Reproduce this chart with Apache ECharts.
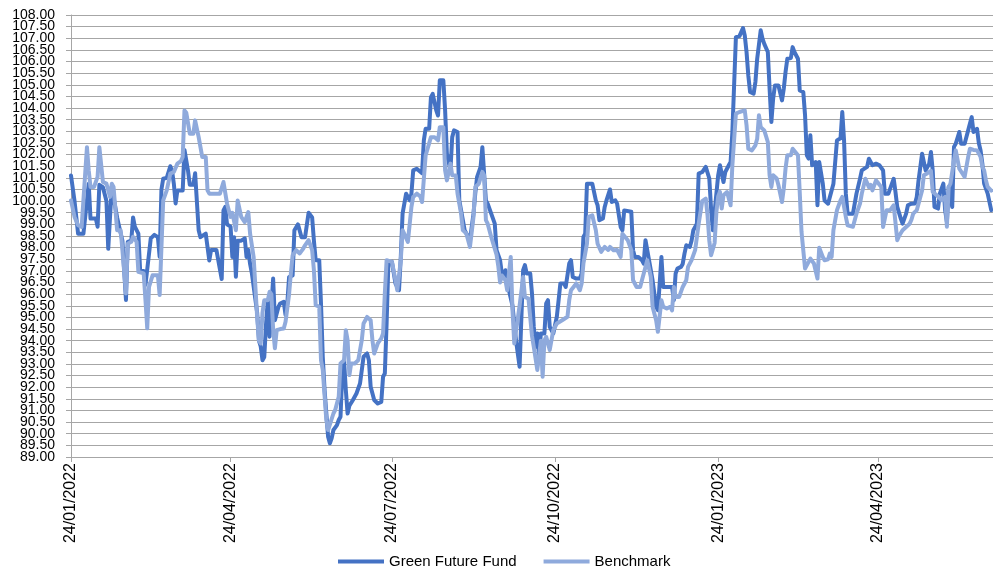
<!DOCTYPE html>
<html>
<head>
<meta charset="utf-8">
<script src="https://cdn.jsdelivr.net/npm/echarts@6/dist/echarts.min.js"></script>
<style>
  html, body { margin: 0; padding: 0; background: #fff; }
  #chart { width: 993px; height: 566px; }
</style>
</head>
<body>
<div id="chart"></div>
<script>
// axis settings
const yMin = 89, yMax = 108, yStep = 0.5;
const xStart = '2022-01-24', xEnd = '2023-06-28';
const tickDates = ['2022-01-24', '2022-04-24', '2022-07-24', '2022-10-24', '2023-01-24', '2023-04-24'];
const seriesNames = ['Green Future Fund', 'Benchmark'];

// Green Future Fund, [date, value]
const fundData = [
  ['2022-01-24', 101.1], ['2022-01-26', 100.0], ['2022-01-28', 98.6], ['2022-01-31', 98.6],
  ['2022-02-03', 100.75], ['2022-02-04', 99.25], ['2022-02-07', 99.25], ['2022-02-08', 98.9],
  ['2022-02-09', 100.7], ['2022-02-11', 100.6], ['2022-02-13', 100.0], ['2022-02-14', 97.95],
  ['2022-02-15', 99.3], ['2022-02-16', 100.6], ['2022-02-19', 99.3], ['2022-02-20', 98.95],
  ['2022-02-22', 98.3], ['2022-02-23', 97.0], ['2022-02-24', 95.75], ['2022-02-25', 98.25],
  ['2022-02-27', 98.3], ['2022-02-28', 99.3], ['2022-03-01', 98.9], ['2022-03-03', 98.6],
  ['2022-03-04', 97.0], ['2022-03-06', 97.0], ['2022-03-07', 96.4], ['2022-03-10', 98.4],
  ['2022-03-12', 98.55], ['2022-03-14', 98.45], ['2022-03-15', 97.6], ['2022-03-16', 100.5],
  ['2022-03-17', 100.96], ['2022-03-19', 101.0], ['2022-03-21', 101.5], ['2022-03-22', 101.3],
  ['2022-03-23', 100.75], ['2022-03-24', 99.9], ['2022-03-25', 100.46], ['2022-03-28', 100.46],
  ['2022-03-29', 102.2], ['2022-03-31', 101.3], ['2022-04-01', 100.7], ['2022-04-03', 100.7],
  ['2022-04-04', 101.2], ['2022-04-06', 98.75], ['2022-04-07', 98.45], ['2022-04-10', 98.6],
  ['2022-04-12', 97.45], ['2022-04-13', 97.9], ['2022-04-16', 97.9], ['2022-04-19', 96.65],
  ['2022-04-20', 99.6], ['2022-04-21', 99.75], ['2022-04-22', 99.0], ['2022-04-24', 98.9],
  ['2022-04-25', 97.6], ['2022-04-26', 98.45], ['2022-04-27', 96.75], ['2022-04-28', 98.3],
  ['2022-04-30', 98.3], ['2022-05-02', 98.4], ['2022-05-03', 97.6], ['2022-05-04', 97.9],
  ['2022-05-05', 97.3], ['2022-05-06', 96.9], ['2022-05-09', 95.2], ['2022-05-10', 94.0],
  ['2022-05-11', 93.75], ['2022-05-12', 93.16], ['2022-05-13', 93.3], ['2022-05-14', 94.7],
  ['2022-05-15', 95.74], ['2022-05-16', 94.17], ['2022-05-18', 96.67], ['2022-05-19', 94.88],
  ['2022-05-21', 95.45], ['2022-05-22', 95.6], ['2022-05-24', 95.67], ['2022-05-25', 95.1],
  ['2022-05-26', 95.6], ['2022-05-27', 96.74], ['2022-05-29', 96.81], ['2022-05-30', 98.75],
  ['2022-06-01', 99.0], ['2022-06-03', 98.45], ['2022-06-05', 98.45], ['2022-06-07', 99.5],
  ['2022-06-09', 99.3], ['2022-06-10', 98.3], ['2022-06-11', 97.46], ['2022-06-13', 97.46],
  ['2022-06-14', 95.6], ['2022-06-15', 93.3], ['2022-06-16', 91.9], ['2022-06-18', 89.87],
  ['2022-06-19', 89.59], ['2022-06-20', 89.8], ['2022-06-21', 90.16], ['2022-06-23', 90.37],
  ['2022-06-24', 90.59], ['2022-06-25', 90.73], ['2022-06-26', 92.59], ['2022-06-27', 93.16],
  ['2022-06-28', 91.88], ['2022-06-29', 90.87], ['2022-06-30', 91.2], ['2022-07-02', 91.45],
  ['2022-07-04', 91.73], ['2022-07-06', 92.16], ['2022-07-08', 93.31], ['2022-07-10', 93.45],
  ['2022-07-11', 93.16], ['2022-07-12', 92.02], ['2022-07-14', 91.45], ['2022-07-16', 91.3],
  ['2022-07-18', 91.37], ['2022-07-19', 92.45], ['2022-07-20', 92.59], ['2022-07-21', 94.74],
  ['2022-07-22', 97.32], ['2022-07-24', 97.39], ['2022-07-26', 96.46], ['2022-07-28', 96.17],
  ['2022-07-29', 97.6], ['2022-07-30', 99.46], ['2022-07-31', 99.53], ['2022-08-01', 100.32],
  ['2022-08-02', 100.39], ['2022-08-03', 100.03], ['2022-08-04', 100.32], ['2022-08-05', 101.32],
  ['2022-08-07', 101.39], ['2022-08-08', 101.32], ['2022-08-10', 101.2], ['2022-08-11', 102.61],
  ['2022-08-12', 103.11], ['2022-08-14', 103.11], ['2022-08-15', 104.47], ['2022-08-16', 104.61],
  ['2022-08-18', 103.9], ['2022-08-19', 103.68], ['2022-08-20', 105.19], ['2022-08-22', 105.19],
  ['2022-08-23', 103.9], ['2022-08-24', 102.04], ['2022-08-26', 101.32], ['2022-08-27', 102.75],
  ['2022-08-28', 103.04], ['2022-08-30', 102.97], ['2022-08-31', 100.03], ['2022-09-02', 99.18],
  ['2022-09-03', 98.75], ['2022-09-04', 98.68], ['2022-09-06', 98.32], ['2022-09-08', 99.46],
  ['2022-09-09', 100.32], ['2022-09-10', 101.03], ['2022-09-12', 101.47], ['2022-09-13', 102.32],
  ['2022-09-14', 102.32], ['2022-09-15', 100.03], ['2022-09-16', 99.89], ['2022-09-18', 99.46],
  ['2022-09-19', 99.46], ['2022-09-20', 99.03], ['2022-09-21', 97.89], ['2022-09-23', 97.46],
  ['2022-09-24', 96.89], ['2022-09-25', 96.74], ['2022-09-26', 97.03], ['2022-09-28', 96.17],
  ['2022-09-30', 95.5], ['2022-10-02', 94.0], ['2022-10-04', 92.88], ['2022-10-06', 97.03],
  ['2022-10-07', 97.25], ['2022-10-08', 96.89], ['2022-10-10', 96.89], ['2022-10-11', 96.03],
  ['2022-10-12', 94.6], ['2022-10-13', 93.74], ['2022-10-14', 94.31], ['2022-10-15', 93.31],
  ['2022-10-16', 94.31], ['2022-10-18', 94.31], ['2022-10-19', 95.6], ['2022-10-20', 95.74],
  ['2022-10-21', 94.6], ['2022-10-23', 94.31], ['2022-10-25', 95.03], ['2022-10-26', 95.74],
  ['2022-10-27', 96.46], ['2022-10-29', 96.46], ['2022-10-30', 96.31], ['2022-11-01', 97.32],
  ['2022-11-02', 97.46], ['2022-11-03', 96.74], ['2022-11-05', 96.67], ['2022-11-07', 96.67],
  ['2022-11-08', 96.89], ['2022-11-09', 98.46], ['2022-11-10', 98.6], ['2022-11-11', 100.75],
  ['2022-11-14', 100.75], ['2022-11-15', 100.82], ['2022-11-16', 100.03], ['2022-11-17', 99.82],
  ['2022-11-18', 99.18], ['2022-11-20', 99.25], ['2022-11-21', 99.75], ['2022-11-22', 100.03],
  ['2022-11-24', 100.5], ['2022-11-25', 99.96], ['2022-11-27', 100.03], ['2022-11-28', 99.89],
  ['2022-11-30', 98.89], ['2022-12-01', 98.75], ['2022-12-02', 99.6], ['2022-12-03', 99.54],
  ['2022-12-06', 99.54], ['2022-12-07', 97.89], ['2022-12-08', 97.6], ['2022-12-10', 97.6],
  ['2022-12-12', 97.46], ['2022-12-13', 97.31], ['2022-12-14', 98.32], ['2022-12-15', 98.3],
  ['2022-12-17', 97.03], ['2022-12-18', 96.6], ['2022-12-20', 95.46], ['2022-12-21', 95.31],
  ['2022-12-23', 97.6], ['2022-12-24', 96.31], ['2022-12-29', 96.31], ['2022-12-30', 95.74],
  ['2022-12-31', 96.89], ['2023-01-01', 97.1], ['2023-01-03', 97.17], ['2023-01-04', 97.3],
  ['2023-01-05', 97.74], ['2023-01-06', 98.1], ['2023-01-08', 98.03], ['2023-01-09', 98.3],
  ['2023-01-10', 98.75], ['2023-01-12', 99.03], ['2023-01-13', 101.18], ['2023-01-15', 101.25],
  ['2023-01-17', 101.47], ['2023-01-19', 100.97], ['2023-01-20', 99.68], ['2023-01-21', 98.75],
  ['2023-01-22', 98.75], ['2023-01-24', 101.11], ['2023-01-25', 101.54], ['2023-01-27', 100.82],
  ['2023-01-28', 101.25], ['2023-01-30', 101.54], ['2023-01-31', 101.68], ['2023-02-01', 102.97],
  ['2023-02-03', 107.05], ['2023-02-05', 107.09], ['2023-02-07', 107.44], ['2023-02-08', 107.12],
  ['2023-02-09', 106.41], ['2023-02-10', 105.4], ['2023-02-11', 104.69], ['2023-02-13', 104.62],
  ['2023-02-14', 105.12], ['2023-02-15', 106.12], ['2023-02-17', 107.34], ['2023-02-18', 106.98],
  ['2023-02-19', 106.76], ['2023-02-20', 106.69], ['2023-02-21', 106.41], ['2023-02-22', 104.83],
  ['2023-02-23', 103.4], ['2023-02-24', 104.4], ['2023-02-25', 104.97], ['2023-02-27', 104.97],
  ['2023-03-01', 104.33], ['2023-03-02', 104.83], ['2023-03-03', 105.55], ['2023-03-04', 106.12],
  ['2023-03-06', 106.15], ['2023-03-07', 106.62], ['2023-03-08', 106.41], ['2023-03-09', 106.48],
  ['2023-03-10', 106.12], ['2023-03-11', 104.76], ['2023-03-13', 104.69], ['2023-03-14', 103.69],
  ['2023-03-15', 101.97], ['2023-03-16', 101.83], ['2023-03-17', 102.83], ['2023-03-18', 101.54],
  ['2023-03-20', 101.68], ['2023-03-21', 99.82], ['2023-03-22', 101.68], ['2023-03-23', 101.61],
  ['2023-03-24', 100.75], ['2023-03-25', 100.03], ['2023-03-27', 99.89], ['2023-03-28', 100.18],
  ['2023-03-30', 100.75], ['2023-04-01', 102.61], ['2023-04-02', 102.68], ['2023-04-03', 102.7],
  ['2023-04-04', 103.83], ['2023-04-05', 102.61], ['2023-04-06', 100.32], ['2023-04-07', 99.46],
  ['2023-04-10', 99.46], ['2023-04-12', 100.32], ['2023-04-14', 100.96], ['2023-04-15', 101.32],
  ['2023-04-16', 101.3], ['2023-04-18', 101.47], ['2023-04-19', 101.82], ['2023-04-21', 101.54],
  ['2023-04-23', 101.61], ['2023-04-25', 101.54], ['2023-04-27', 101.32], ['2023-04-28', 100.32],
  ['2023-04-30', 100.32], ['2023-05-02', 100.75], ['2023-05-03', 100.96], ['2023-05-04', 100.39],
  ['2023-05-05', 99.75], ['2023-05-07', 99.25], ['2023-05-08', 99.03], ['2023-05-10', 99.46],
  ['2023-05-11', 99.82], ['2023-05-13', 99.89], ['2023-05-15', 99.9], ['2023-05-16', 100.18],
  ['2023-05-17', 100.89], ['2023-05-19', 102.04], ['2023-05-20', 102.04], ['2023-05-21', 101.32],
  ['2023-05-23', 101.6], ['2023-05-24', 102.11], ['2023-05-25', 101.32], ['2023-05-26', 99.75],
  ['2023-05-28', 99.68], ['2023-05-29', 100.32], ['2023-05-31', 100.75], ['2023-06-01', 99.61],
  ['2023-06-02', 99.1], ['2023-06-03', 100.61], ['2023-06-05', 99.75], ['2023-06-06', 102.33],
  ['2023-06-07', 102.47], ['2023-06-09', 102.97], ['2023-06-10', 102.47], ['2023-06-12', 102.47],
  ['2023-06-13', 102.76], ['2023-06-15', 103.33], ['2023-06-16', 103.61], ['2023-06-17', 102.97],
  ['2023-06-19', 103.11], ['2023-06-20', 102.5], ['2023-06-21', 102.18], ['2023-06-22', 101.61],
  ['2023-06-23', 100.75], ['2023-06-25', 100.32], ['2023-06-26', 100.25], ['2023-06-27', 99.61]
];

// Benchmark, [date, value]
const benchData = [
  ['2022-01-24', 100.03], ['2022-01-26', 99.32], ['2022-01-28', 98.96], ['2022-01-30', 98.89],
  ['2022-02-01', 101.18], ['2022-02-02', 102.32], ['2022-02-03', 101.32], ['2022-02-04', 100.61],
  ['2022-02-06', 100.61], ['2022-02-08', 101.04], ['2022-02-09', 102.32], ['2022-02-10', 102.25],
  ['2022-02-11', 100.82], ['2022-02-13', 100.75], ['2022-02-15', 100.18], ['2022-02-16', 100.75],
  ['2022-02-17', 100.61], ['2022-02-19', 98.75], ['2022-02-21', 98.75], ['2022-02-22', 97.89],
  ['2022-02-23', 96.96], ['2022-02-24', 96.03], ['2022-02-25', 98.17], ['2022-02-27', 98.25],
  ['2022-02-28', 98.46], ['2022-03-02', 98.25], ['2022-03-03', 96.96], ['2022-03-06', 96.89],
  ['2022-03-07', 95.74], ['2022-03-08', 94.53], ['2022-03-09', 96.31], ['2022-03-11', 96.81],
  ['2022-03-14', 96.81], ['2022-03-15', 95.96], ['2022-03-17', 100.03], ['2022-03-19', 100.46],
  ['2022-03-21', 101.18], ['2022-03-23', 101.25], ['2022-03-25', 101.61], ['2022-03-27', 101.72],
  ['2022-03-28', 101.9], ['2022-03-29', 103.9], ['2022-03-30', 103.8], ['2022-04-01', 102.9],
  ['2022-04-03', 102.9], ['2022-04-04', 103.47], ['2022-04-06', 102.75], ['2022-04-08', 101.9],
  ['2022-04-10', 101.9], ['2022-04-11', 100.46], ['2022-04-12', 100.32], ['2022-04-18', 100.32],
  ['2022-04-20', 100.82], ['2022-04-21', 100.75], ['2022-04-22', 99.89], ['2022-04-24', 99.32],
  ['2022-04-25', 99.5], ['2022-04-27', 98.75], ['2022-04-28', 100.03], ['2022-04-30', 99.32],
  ['2022-05-02', 99.1], ['2022-05-04', 99.53], ['2022-05-05', 98.6], ['2022-05-07', 97.6],
  ['2022-05-09', 95.0], ['2022-05-10', 94.0], ['2022-05-11', 93.88], ['2022-05-12', 95.2],
  ['2022-05-13', 95.74], ['2022-05-15', 95.74], ['2022-05-16', 96.1], ['2022-05-17', 96.0],
  ['2022-05-18', 94.5], ['2022-05-19', 93.67], ['2022-05-20', 94.45], ['2022-05-22', 94.5],
  ['2022-05-24', 94.52], ['2022-05-25', 94.81], ['2022-05-27', 96.0], ['2022-05-28', 96.89],
  ['2022-05-29', 97.67], ['2022-05-31', 97.89], ['2022-06-02', 97.75], ['2022-06-04', 97.96],
  ['2022-06-05', 98.1], ['2022-06-07', 98.32], ['2022-06-09', 97.89], ['2022-06-10', 97.03],
  ['2022-06-11', 95.53], ['2022-06-13', 95.46], ['2022-06-14', 93.16], ['2022-06-15', 92.74],
  ['2022-06-17', 90.59], ['2022-06-18', 90.16], ['2022-06-19', 90.16], ['2022-06-21', 90.87],
  ['2022-06-22', 91.02], ['2022-06-24', 91.59], ['2022-06-25', 93.02], ['2022-06-27', 93.16],
  ['2022-06-28', 94.45], ['2022-06-29', 94.02], ['2022-06-30', 92.52], ['2022-07-01', 93.02],
  ['2022-07-03', 93.02], ['2022-07-05', 93.16], ['2022-07-07', 94.02], ['2022-07-08', 94.74],
  ['2022-07-10', 95.02], ['2022-07-12', 94.88], ['2022-07-13', 94.02], ['2022-07-14', 93.45],
  ['2022-07-16', 93.88], ['2022-07-18', 94.1], ['2022-07-19', 94.31], ['2022-07-20', 96.03],
  ['2022-07-21', 97.46], ['2022-07-22', 97.39], ['2022-07-24', 97.39], ['2022-07-26', 96.6],
  ['2022-07-27', 96.17], ['2022-07-29', 97.46], ['2022-07-30', 98.75], ['2022-07-31', 98.75],
  ['2022-08-02', 98.25], ['2022-08-04', 99.75], ['2022-08-05', 100.18], ['2022-08-07', 100.32],
  ['2022-08-09', 100.2], ['2022-08-10', 99.96], ['2022-08-12', 101.96], ['2022-08-13', 102.04],
  ['2022-08-15', 102.75], ['2022-08-17', 102.75], ['2022-08-19', 102.61], ['2022-08-20', 103.18],
  ['2022-08-22', 103.18], ['2022-08-23', 101.32], ['2022-08-24', 100.89], ['2022-08-26', 101.61],
  ['2022-08-27', 101.11], ['2022-08-29', 101.1], ['2022-08-30', 100.32], ['2022-09-01', 99.46],
  ['2022-09-02', 98.75], ['2022-09-04', 98.6], ['2022-09-05', 98.53], ['2022-09-06', 98.03],
  ['2022-09-08', 99.32], ['2022-09-09', 100.61], ['2022-09-11', 100.75], ['2022-09-13', 101.25],
  ['2022-09-14', 101.1], ['2022-09-15', 99.18], ['2022-09-16', 99.03], ['2022-09-18', 98.46],
  ['2022-09-19', 98.46], ['2022-09-21', 97.7], ['2022-09-22', 97.2], ['2022-09-23', 96.5],
  ['2022-09-24', 96.8], ['2022-09-26', 96.6], ['2022-09-27', 96.17], ['2022-09-29', 97.6],
  ['2022-09-30', 95.31], ['2022-10-01', 93.88], ['2022-10-02', 93.9], ['2022-10-04', 95.5],
  ['2022-10-06', 96.74], ['2022-10-07', 95.88], ['2022-10-09', 95.81], ['2022-10-11', 94.2],
  ['2022-10-12', 93.74], ['2022-10-14', 92.74], ['2022-10-15', 92.81], ['2022-10-16', 94.0],
  ['2022-10-17', 92.45], ['2022-10-18', 94.0], ['2022-10-19', 94.17], ['2022-10-21', 93.6],
  ['2022-10-23', 94.45], ['2022-10-25', 94.74], ['2022-10-28', 94.88], ['2022-10-31', 95.03],
  ['2022-11-01', 95.74], ['2022-11-02', 96.17], ['2022-11-05', 96.46], ['2022-11-07', 96.17],
  ['2022-11-08', 96.46], ['2022-11-09', 97.32], ['2022-11-11', 98.17], ['2022-11-12', 99.32],
  ['2022-11-14', 99.39], ['2022-11-16', 98.75], ['2022-11-17', 98.17], ['2022-11-19', 97.82],
  ['2022-11-21', 98.03], ['2022-11-23', 97.9], ['2022-11-24', 98.03], ['2022-11-26', 97.89],
  ['2022-11-28', 97.9], ['2022-11-30', 97.6], ['2022-12-01', 98.6], ['2022-12-02', 98.55],
  ['2022-12-04', 98.32], ['2022-12-06', 97.89], ['2022-12-07', 96.6], ['2022-12-09', 96.31],
  ['2022-12-11', 96.31], ['2022-12-12', 96.6], ['2022-12-14', 97.17], ['2022-12-15', 97.46],
  ['2022-12-17', 96.74], ['2022-12-18', 95.46], ['2022-12-19', 95.17], ['2022-12-20', 94.88],
  ['2022-12-21', 94.38], ['2022-12-23', 95.74], ['2022-12-24', 95.46], ['2022-12-26', 95.38],
  ['2022-12-28', 95.46], ['2022-12-29', 95.3], ['2022-12-30', 96.31], ['2022-12-31', 95.88],
  ['2023-01-02', 95.88], ['2023-01-04', 96.31], ['2023-01-06', 96.6], ['2023-01-07', 97.17],
  ['2023-01-09', 97.46], ['2023-01-11', 97.89], ['2023-01-13', 99.03], ['2023-01-15', 100.0],
  ['2023-01-17', 100.11], ['2023-01-18', 99.39], ['2023-01-19', 98.3], ['2023-01-20', 97.67],
  ['2023-01-22', 98.2], ['2023-01-23', 99.54], ['2023-01-24', 100.2], ['2023-01-25', 100.4],
  ['2023-01-26', 99.68], ['2023-01-27', 100.25], ['2023-01-29', 100.39], ['2023-01-30', 100.39],
  ['2023-01-31', 99.82], ['2023-02-01', 101.54], ['2023-02-03', 103.76], ['2023-02-05', 103.83],
  ['2023-02-08', 103.9], ['2023-02-09', 103.26], ['2023-02-10', 102.25], ['2023-02-12', 102.18],
  ['2023-02-14', 102.4], ['2023-02-15', 102.68], ['2023-02-16', 103.69], ['2023-02-17', 103.18],
  ['2023-02-19', 103.04], ['2023-02-20', 103.04], ['2023-02-21', 102.54], ['2023-02-22', 101.11],
  ['2023-02-23', 100.61], ['2023-02-24', 101.11], ['2023-02-26', 100.97], ['2023-02-27', 100.68],
  ['2023-03-01', 99.96], ['2023-03-02', 100.54], ['2023-03-03', 101.4], ['2023-03-04', 101.97],
  ['2023-03-06', 101.97], ['2023-03-07', 102.25], ['2023-03-08', 102.33], ['2023-03-10', 101.97],
  ['2023-03-11', 100.39], ['2023-03-12', 98.68], ['2023-03-13', 98.68], ['2023-03-14', 97.1],
  ['2023-03-15', 97.1], ['2023-03-17', 97.53], ['2023-03-18', 97.6], ['2023-03-19', 97.32],
  ['2023-03-21', 96.67], ['2023-03-22', 98.0], ['2023-03-24', 97.6], ['2023-03-25', 97.46],
  ['2023-03-27', 97.5], ['2023-03-28', 97.75], ['2023-03-29', 97.6], ['2023-03-30', 98.75],
  ['2023-04-01', 99.61], ['2023-04-02', 99.82], ['2023-04-03', 100.03], ['2023-04-04', 100.18],
  ['2023-04-06', 99.32], ['2023-04-07', 98.96], ['2023-04-10', 98.9], ['2023-04-12', 99.46],
  ['2023-04-14', 99.89], ['2023-04-15', 100.32], ['2023-04-17', 100.96], ['2023-04-18', 100.9],
  ['2023-04-19', 100.6], ['2023-04-20', 100.7], ['2023-04-21', 100.46], ['2023-04-23', 100.89],
  ['2023-04-24', 100.8], ['2023-04-26', 100.6], ['2023-04-27', 98.89], ['2023-04-29', 99.61],
  ['2023-05-01', 99.61], ['2023-05-03', 99.82], ['2023-05-04', 99.75], ['2023-05-05', 98.32],
  ['2023-05-06', 98.5], ['2023-05-08', 98.75], ['2023-05-10', 98.89], ['2023-05-12', 99.03],
  ['2023-05-13', 99.2], ['2023-05-14', 99.46], ['2023-05-16', 99.61], ['2023-05-17', 99.89],
  ['2023-05-19', 100.46], ['2023-05-20', 101.11], ['2023-05-22', 101.2], ['2023-05-24', 101.3],
  ['2023-05-25', 100.4], ['2023-05-26', 100.32], ['2023-05-28', 100.2], ['2023-05-30', 100.04],
  ['2023-06-01', 100.18], ['2023-06-02', 98.9], ['2023-06-03', 100.6], ['2023-06-04', 100.75],
  ['2023-06-06', 101.75], ['2023-06-07', 102.18], ['2023-06-08', 102.18], ['2023-06-09', 101.39],
  ['2023-06-10', 101.33], ['2023-06-12', 101.04], ['2023-06-13', 101.04], ['2023-06-14', 101.9],
  ['2023-06-15', 102.25], ['2023-06-17', 102.2], ['2023-06-19', 102.18], ['2023-06-21', 101.9],
  ['2023-06-22', 101.47], ['2023-06-23', 101.32], ['2023-06-24', 100.9], ['2023-06-25', 100.61],
  ['2023-06-27', 100.45]
];

// dates become timestamps on a plain value axis (custom tick positions)
const toTime = (s) => echarts.time.parse(s).getTime();
const toPoints = (rows) => rows.map((r) => [toTime(r[0]), r[1]]);
const gridColor = '#a6a6a6';

// y labels every 0.5 are split over two stacked axes (whole / half values)
// so that echarts does not drop the crowded ones
const wholeLabels = [];
const halfLabels = [];
for (let v = yMin; v <= yMax + 1e-9; v += yStep) {
  (Math.abs(v - Math.round(v)) < 1e-9 ? wholeLabels : halfLabels).push(v);
}

const yLabelStyle = {
  margin: 16,
  fontFamily: 'Liberation Sans',
  fontSize: 14,
  color: '#000',
  formatter: (v) => v.toFixed(2)
};

const chart = echarts.init(document.getElementById('chart'), null, { renderer: 'canvas' });

const option = {
  animation: false,
  backgroundColor: '#ffffff',
  grid: { left: 71, right: 0, top: 15, bottom: 109, containLabel: false },
  legend: {
    left: 333,
    top: 549,
    itemWidth: 46,
    itemHeight: 4,
    itemGap: 27,
    icon: 'rect',
    textStyle: { fontFamily: 'Liberation Sans', fontSize: 15, color: '#000' },
    data: seriesNames
  },
  xAxis: {
    type: 'value',
    min: toTime(xStart),
    max: toTime(xEnd),
    axisLine: { show: true, onZero: false, lineStyle: { color: gridColor, width: 1 } },
    axisTick: {
      show: true,
      length: 5,
      customValues: tickDates.map(toTime),
      lineStyle: { color: gridColor }
    },
    axisLabel: {
      customValues: tickDates.map(toTime),
      rotate: 90,
      margin: 6,
      fontFamily: 'Liberation Sans',
      fontSize: 16,
      color: '#000',
      formatter: (v) => echarts.time.format(v, '{dd}/{MM}/{yyyy}', false)
    },
    splitLine: { show: false }
  },
  yAxis: [
    {
      type: 'value',
      min: yMin,
      max: yMax,
      interval: yStep,
      position: 'left',
      axisLine: { show: true, onZero: false, lineStyle: { color: gridColor, width: 1 } },
      axisTick: { show: true, length: 5, lineStyle: { color: gridColor } },
      axisLabel: Object.assign({ customValues: wholeLabels }, yLabelStyle),
      splitLine: { show: true, showMinLine: true, showMaxLine: true, lineStyle: { color: gridColor, width: 1 } }
    },
    {
      type: 'value',
      min: yMin,
      max: yMax,
      interval: yStep,
      position: 'left',
      offset: 0,
      axisLine: { show: false, onZero: false },
      axisTick: { show: false },
      splitLine: { show: false },
      axisLabel: Object.assign({ customValues: halfLabels }, yLabelStyle)
    }
  ],
  series: [
    {
      name: seriesNames[0],
      type: 'line',
      data: toPoints(fundData),
      showSymbol: false,
      symbol: 'none',
      color: '#4472c4',
      lineStyle: { width: 4, color: '#4472c4', cap: 'round', join: 'round' }
    },
    {
      name: seriesNames[1],
      type: 'line',
      data: toPoints(benchData),
      showSymbol: false,
      symbol: 'none',
      color: '#8faadc',
      lineStyle: { width: 4, color: '#8faadc', cap: 'round', join: 'round' }
    }
  ]
};

chart.setOption(option);
</script>
</body>
</html>
